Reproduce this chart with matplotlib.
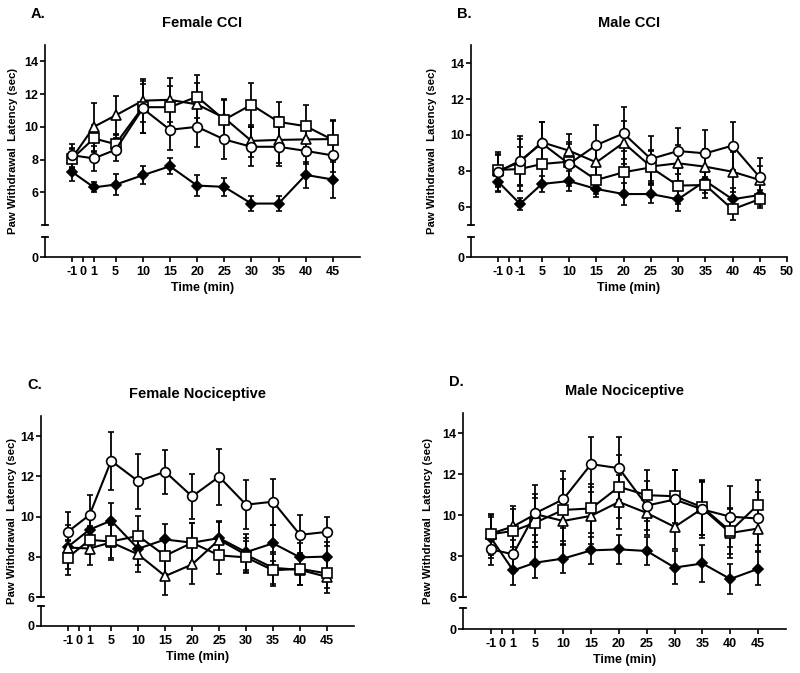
import matplotlib
matplotlib.use("Agg")
import matplotlib.pyplot as plt
from matplotlib.lines import Line2D

plt.rcParams['font.family'] = ['Liberation Sans', 'DejaVu Sans']
plt.rcParams['font.weight'] = 'bold'

W, H = 800, 673
fig = plt.figure(figsize=(W / 100, H / 100), dpi=100)

# ---------------- data ----------------
time_labels = ['-1', '1', '5', '10', '15', '20', '25', '30', '35', '40', '45']
tick_labels_std = ['-1', '0', '1', '5', '10', '15', '20', '25', '30', '35', '40', '45']
tick_labels_b = ['-1', '0', '-1', '5', '10', '15', '20', '25', '30', '35', '40', '45', '50']

A_diamond = [7.24, 6.30, 6.47, 7.04, 7.59, 6.41, 6.33, 5.31, 5.31, 7.06, 6.78]
A_circle = [8.26, 8.07, 8.60, 11.12, 9.82, 10.00, 9.23, 8.78, 8.78, 8.53, 8.25]
A_triangle = [8.10, 10.00, 10.70, 11.60, 11.65, 11.37, 10.55, 9.14, 9.20, 9.23, 9.25]
A_square = [8.06, 9.29, 8.94, 11.20, 11.20, 11.84, 10.43, 11.35, 10.30, 10.04, 9.20]
A_diamond_err = [0.55, 0.30, 0.65, 0.55, 0.50, 0.63, 0.55, 0.45, 0.45, 0.82, 1.10]
A_circle_err = [0.70, 0.77, 0.70, 1.50, 1.22, 1.22, 1.20, 1.20, 1.20, 0.80, 1.00]
A_triangle_err = [0.60, 1.45, 1.20, 1.30, 1.35, 1.30, 1.10, 1.00, 1.40, 1.00, 1.10]
A_square_err = [0.60, 0.80, 0.60, 1.60, 1.30, 1.30, 1.30, 1.35, 1.20, 1.30, 1.20]

B_diamond = [7.40, 6.17, 7.28, 7.44, 7.00, 6.72, 6.72, 6.43, 7.45, 6.43, 6.67]
B_circle = [7.96, 8.57, 9.54, 8.39, 9.44, 10.09, 8.67, 9.11, 8.98, 9.41, 7.65]
B_triangle = [8.00, 8.50, 9.60, 9.13, 8.48, 9.57, 8.25, 8.43, 8.24, 7.96, 7.50]
B_square = [8.06, 8.11, 8.39, 8.52, 7.50, 7.93, 8.20, 7.19, 7.22, 5.87, 6.44]
B_diamond_err = [0.50, 0.35, 0.45, 0.55, 0.45, 0.60, 0.50, 0.65, 0.70, 0.60, 0.60]
B_circle_err = [1.10, 1.40, 1.20, 1.20, 1.10, 1.45, 1.25, 1.30, 1.30, 1.33, 1.05]
B_triangle_err = [0.90, 1.30, 1.10, 0.90, 1.00, 1.20, 0.90, 1.00, 1.00, 1.10, 0.80]
B_square_err = [0.90, 1.20, 1.00, 1.00, 0.80, 1.20, 0.90, 1.00, 0.70, 0.60, 0.50]

C_diamond = [8.50, 9.35, 9.80, 8.40, 8.86, 8.70, 8.93, 8.23, 8.67, 7.97, 8.01]
C_circle = [9.25, 10.08, 12.77, 11.76, 12.23, 11.00, 11.98, 10.59, 10.74, 9.09, 9.24]
C_triangle = [8.46, 8.41, 8.72, 8.12, 7.04, 7.62, 8.85, 8.10, 7.45, 7.35, 7.00]
C_square = [7.96, 8.84, 8.76, 9.04, 8.05, 8.70, 8.07, 7.97, 7.33, 7.40, 7.17]
C_diamond_err = [1.10, 0.80, 0.85, 0.80, 0.75, 1.00, 0.85, 0.90, 0.90, 0.70, 0.70]
C_circle_err = [1.00, 1.00, 1.45, 1.36, 1.10, 1.10, 1.40, 1.22, 1.14, 0.99, 0.72]
C_triangle_err = [0.30, 0.80, 0.90, 0.90, 0.92, 0.95, 0.90, 0.85, 0.80, 0.75, 0.82]
C_square_err = [0.85, 0.70, 0.80, 1.00, 0.90, 1.00, 0.93, 0.80, 0.80, 0.80, 0.70]

D_diamond = [8.90, 7.30, 7.68, 7.88, 8.28, 8.33, 8.25, 7.44, 7.64, 6.88, 7.38]
D_circle = [8.33, 8.09, 10.10, 10.78, 12.50, 12.30, 10.47, 10.77, 10.28, 9.93, 9.84]
D_triangle = [9.10, 9.45, 10.05, 9.72, 9.97, 10.65, 10.11, 9.43, 10.33, 9.13, 9.35]
D_square = [9.07, 9.23, 9.64, 10.26, 10.33, 11.39, 10.98, 10.93, 10.39, 9.22, 10.52]
D_diamond_err = [1.00, 0.72, 0.75, 0.72, 0.65, 0.70, 0.70, 0.80, 0.90, 0.73, 0.80]
D_circle_err = [0.75, 0.70, 1.40, 1.39, 1.34, 1.55, 1.20, 1.45, 1.40, 1.50, 1.30]
D_triangle_err = [0.90, 1.00, 1.00, 1.20, 1.40, 1.30, 1.10, 1.10, 1.30, 1.20, 1.10]
D_square_err = [1.00, 1.05, 1.20, 1.50, 1.20, 1.55, 1.25, 1.30, 1.35, 1.10, 1.18]

# --------------- helpers ---------------
# the time axis is compressed before 1 min: label "-1" sits at -3, "0" at -1
def time_pos(lbl):
    v = int(lbl)
    return v - 2 if v < 1 else v

def tick_pos(lbls):
    out = []
    for i, l in enumerate(lbls):
        if i < 3:
            out.append([-3, -1, 1][i])
        else:
            out.append(int(l))
    return out

x_data = [time_pos(t) for t in time_labels]


def fig_rect(left, top, right, bottom):
    return [left / W, 1 - bottom / H, (right - left) / W, (bottom - top) / H]


def hline_px(x, y, half=3.0, lw=1.3):
    fig.add_artist(Line2D([(x - half) / W, (x + half) / W], [1 - y / H, 1 - y / H],
                          color='black', lw=lw, transform=fig.transFigure))


styles = [
    ('diamond', dict(marker='D', mfc='black', ms=5)),
    ('triangle', dict(marker='^', mfc='white', ms=7)),
    ('square', dict(marker='s', mfc='white', ms=6.5)),
    ('circle', dict(marker='o', mfc='white', ms=7)),
]


def panel(letter, title, box, lower, ylim, yticks, xticks_lbl, series, ylab_x):
    left, top, right, bottom = box
    ltop, lbottom = lower
    ax = fig.add_axes(fig_rect(left, top, right, bottom))
    axl = fig.add_axes(fig_rect(left, ltop, right, lbottom))
    for a in (ax, axl):
        a.set_xlim(-8, 50)
        a.patch.set_alpha(0)
        for s in ('top', 'right'):
            a.spines[s].set_visible(False)
        a.spines['left'].set_linewidth(1.2)
        a.spines['bottom'].set_linewidth(1.2)
        a.tick_params(direction='out', length=3.5, width=1.2, labelsize=9, pad=1.2)
    ax.spines['bottom'].set_visible(False)
    ax.set_xticks([])
    ax.set_ylim(*ylim)
    ax.set_yticks(yticks)
    ax.set_yticklabels([str(v) for v in yticks])
    axl.set_ylim(0, 1)
    axl.set_yticks([0])
    axl.set_yticklabels(['0'])
    axl.set_xticks(tick_pos(xticks_lbl))
    axl.set_xticklabels(xticks_lbl)
    axl.tick_params(axis='x', pad=3)
    for t in ax.get_yticklabels() + axl.get_yticklabels() + axl.get_xticklabels():
        t.set_fontweight('bold')

    for key, st in styles:
        vals, errs = series[key]
        ax.errorbar(x_data, vals, yerr=errs, color='black', lw=1.5, mec='black',
                    mew=1.2, elinewidth=1.3, capsize=2.2, capthick=1.3,
                    clip_on=False, **st)

    # axis break caps
    hline_px(left, bottom)
    hline_px(left, ltop)

    ax.set_title(title, fontsize=10.5, fontweight='bold', pad=13)
    fig.text((left - 14) / W, 1 - (top - 31) / H, letter, fontsize=10.5,
             fontweight='bold', ha='left', va='center')
    fig.text(ylab_x / W, 1 - ((top + lbottom) / 2) / H, 'Paw Withdrawal  Latency (sec)',
             rotation=90, fontsize=8.2, fontweight='bold', ha='center', va='center')
    axl.set_xlabel('Time (min)', fontsize=9, fontweight='bold', labelpad=3)


panel('A.', 'Female CCI', (45, 45, 360, 225), (237, 257), (4, 15),
      [6, 8, 10, 12, 14], tick_labels_std,
      {'diamond': (A_diamond, A_diamond_err), 'circle': (A_circle, A_circle_err),
       'triangle': (A_triangle, A_triangle_err), 'square': (A_square, A_square_err)}, 13)

panel('B.', 'Male CCI', (471, 45, 787, 225), (237, 257), (5, 15),
      [6, 8, 10, 12, 14], tick_labels_b,
      {'diamond': (B_diamond, B_diamond_err), 'circle': (B_circle, B_circle_err),
       'triangle': (B_triangle, B_triangle_err), 'square': (B_square, B_square_err)}, 432)

panel('C.', 'Female Nociceptive', (41, 416, 354, 597), (606, 626), (6, 15),
      [6, 8, 10, 12, 14], tick_labels_std,
      {'diamond': (C_diamond, C_diamond_err), 'circle': (C_circle, C_circle_err),
       'triangle': (C_triangle, C_triangle_err), 'square': (C_square, C_square_err)}, 12)

panel('D.', 'Male Nociceptive', (463, 413, 786, 597), (608, 629), (6, 15),
      [6, 8, 10, 12, 14], tick_labels_std,
      {'diamond': (D_diamond, D_diamond_err), 'circle': (D_circle, D_circle_err),
       'triangle': (D_triangle, D_triangle_err), 'square': (D_square, D_square_err)}, 428)

fig.savefig('out.png', dpi=100)
